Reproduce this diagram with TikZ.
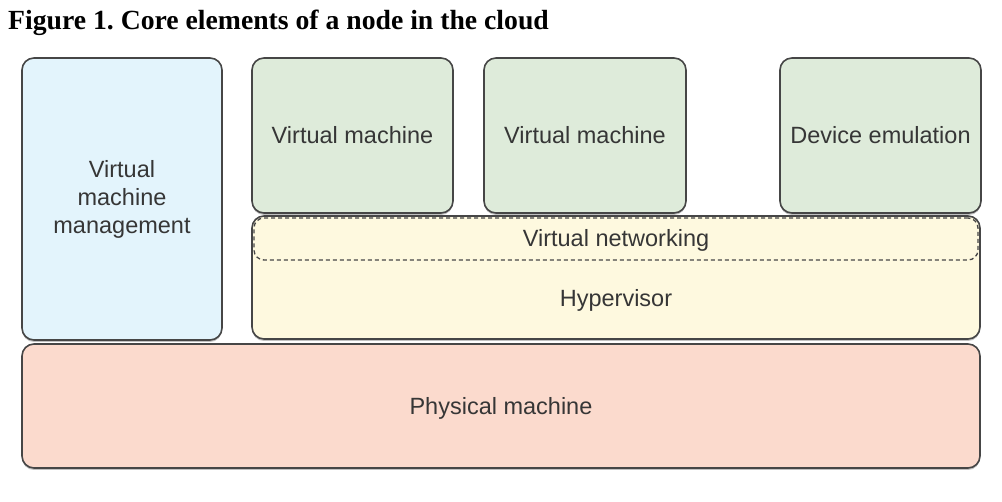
\documentclass[tikz,border=0pt]{standalone}
\usepackage{fontspec}
\setmainfont{Liberation Sans}
\newfontfamily\titlefont{Liberation Serif}
\usetikzlibrary{shadows}
\frenchspacing
\definecolor{linegray}{HTML}{464646}
\definecolor{textgray}{HTML}{363636}
\definecolor{mgmtblue}{HTML}{E3F4FC}
\definecolor{vmgreen}{HTML}{DEEBDA}
\definecolor{hypyellow}{HTML}{FEF9DF}
\definecolor{physred}{HTML}{FBDACD}
\tikzset{
    block/.style={
        draw=linegray,
        line width=1.6pt,
        rounded corners=12pt,
        inner sep=0pt,
        outer sep=0pt,
        text=textgray,
        align=center,
        font=\fontsize{23.5}{28}\selectfont,
        drop shadow={shadow xshift=0pt,shadow yshift=-2pt,fill=black!35,opacity=0.7}
    },
    netbox/.style={
        draw=linegray,
        dashed,
        dash pattern=on 4pt off 3pt,
        line width=1.3pt,
        rounded corners=10pt,
        inner sep=0pt
    },
    caption/.style={
        text=textgray,
        font=\fontsize{23.5}{28}\selectfont
    }
}
\begin{document}
\begin{tikzpicture}[x=1pt,y=-1pt]
    \useasboundingbox (0,0) rectangle (1002,502);
    % title
    \node[anchor=base west,inner sep=0pt,font=\titlefont\bfseries\fontsize{27.7}{32}\selectfont]
        (title) at (8,30) {Figure 1. Core elements of a node in the cloud};
    % physical layer
    \node[block,fill=physred,minimum width=958pt,minimum height=124pt]
        (phys) at (501,406) {};
    \node[caption] (physlabel) at (501,408) {Physical machine};
    % management
    \node[block,fill=mgmtblue,minimum width=200pt,minimum height=282pt]
        (mgmt) at (122,199) {Virtual\\machine\\management};
    % hypervisor
    \node[block,fill=hypyellow,minimum width=728pt,minimum height=123pt]
        (hyp) at (616,277.5) {};
    \node[netbox,minimum width=724pt,minimum height=42pt]
        (net) at (616,239) {};
    \node[caption] (netlabel) at (616,240) {Virtual networking};
    \node[caption] (hyplabel) at (616,300) {Hypervisor};
    % guests
    \node[block,fill=vmgreen,minimum width=201pt,minimum height=155pt]
        (vma) at (352.5,135.5) {Virtual machine};
    \node[block,fill=vmgreen,minimum width=202pt,minimum height=155pt]
        (vmb) at (585,135.5) {Virtual machine};
    \node[block,fill=vmgreen,minimum width=201pt,minimum height=155pt]
        (dev) at (880.5,135.5) {Device emulation};
\end{tikzpicture}
\end{document}
